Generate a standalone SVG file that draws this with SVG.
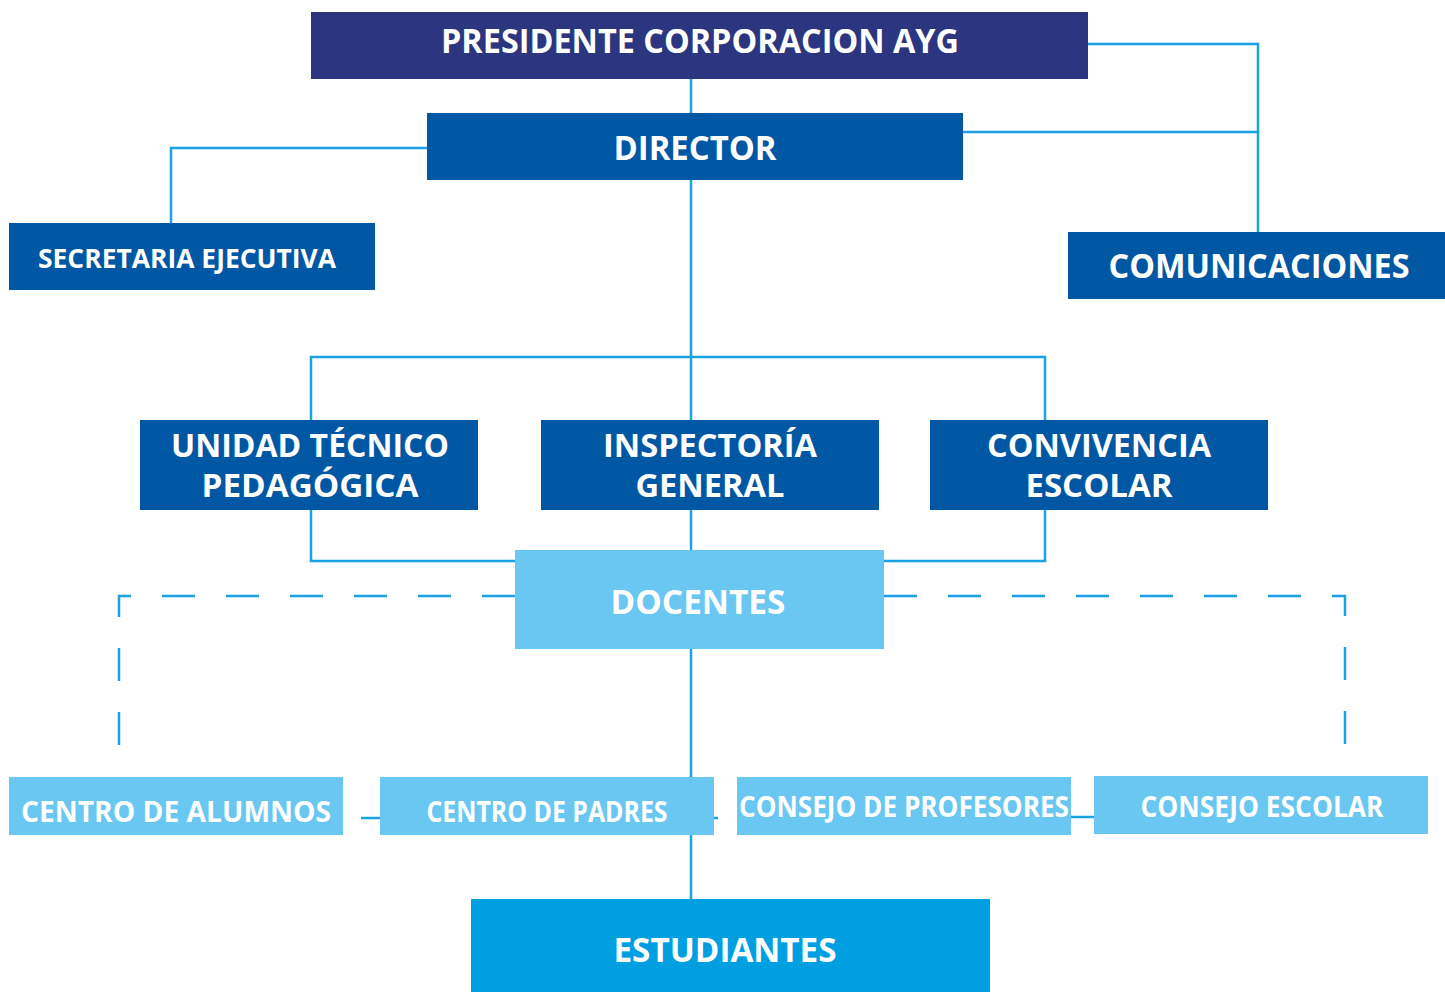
<svg xmlns="http://www.w3.org/2000/svg" width="1445" height="992" viewBox="0 0 1445 992">
<style>
.ln{fill:none;stroke:#1aa3e2;stroke-width:2.5}
.dash{fill:none;stroke:#1aa3e2;stroke-width:2.5;stroke-dasharray:33 31}
.t{font-family:"Open Sans","Liberation Sans",sans-serif;font-weight:700;fill:#ffffff;text-anchor:middle}
.navy{fill:#2b3580}
.blue{fill:#0057a4}
.light{fill:#6ac7f2}
.cyan{fill:#009fe1}
</style>
<rect width="1445" height="992" fill="#ffffff"/>
<g id="connectors">
<polyline class="ln" points="1088,44 1258,44 1258,232"/>
<polyline class="ln" points="963,132 1258,132"/>
<line class="ln" x1="691" y1="79" x2="691" y2="113"/>
<polyline class="ln" points="427,148 171,148 171,223"/>
<line class="ln" x1="691" y1="180" x2="691" y2="550"/>
<polyline class="ln" points="311,420 311,357 1045,357 1045,420"/>
<polyline class="ln" points="311,510 311,561 515,561"/>
<polyline class="ln" points="1045,510 1045,561 884,561"/>
<polyline class="dash" points="515,596 119,596 119,750"/>
<polyline class="dash" points="884,596 1345,596 1345,750"/>
<line class="ln" x1="691" y1="649" x2="691" y2="899"/>
<line class="ln" x1="361" y1="818" x2="380" y2="818"/>
<line class="ln" x1="714" y1="818" x2="718" y2="818"/>
<line class="ln" x1="1071" y1="817" x2="1094" y2="817"/>
</g>
<g id="presidente"><rect class="navy" x="311" y="12" width="777" height="67"/><text class="t" x="700" y="53" font-size="34" textLength="518" lengthAdjust="spacingAndGlyphs">PRESIDENTE CORPORACION AYG</text></g>
<g id="director"><rect class="blue" x="427" y="113" width="536" height="67"/><text class="t" x="695" y="160" font-size="34" textLength="163" lengthAdjust="spacingAndGlyphs">DIRECTOR</text></g>
<g id="secretaria"><rect class="blue" x="9" y="223" width="366" height="67"/><text class="t" x="187" y="268" font-size="27" textLength="298" lengthAdjust="spacingAndGlyphs">SECRETARIA EJECUTIVA</text></g>
<g id="comunicaciones"><rect class="blue" x="1068" y="232" width="377" height="67"/><text class="t" x="1259" y="278" font-size="34" textLength="301" lengthAdjust="spacingAndGlyphs">COMUNICACIONES</text></g>
<g id="utp"><rect class="blue" x="140" y="420" width="338" height="90"/><text class="t" x="310" y="457" font-size="32" textLength="278" lengthAdjust="spacingAndGlyphs">UNIDAD TÉCNICO</text><text class="t" x="310" y="497" font-size="32" textLength="217" lengthAdjust="spacingAndGlyphs">PEDAGÓGICA</text></g>
<g id="inspectoria"><rect class="blue" x="541" y="420" width="338" height="90"/><text class="t" x="710" y="457" font-size="32" textLength="214" lengthAdjust="spacingAndGlyphs">INSPECTORÍA</text><text class="t" x="710" y="497" font-size="32" textLength="149" lengthAdjust="spacingAndGlyphs">GENERAL</text></g>
<g id="convivencia"><rect class="blue" x="930" y="420" width="338" height="90"/><text class="t" x="1099" y="457" font-size="32" textLength="224" lengthAdjust="spacingAndGlyphs">CONVIVENCIA</text><text class="t" x="1099" y="497" font-size="32" textLength="147" lengthAdjust="spacingAndGlyphs">ESCOLAR</text></g>
<g id="docentes"><rect class="light" x="515" y="550" width="369" height="99"/><text class="t" x="698" y="614" font-size="34" textLength="175" lengthAdjust="spacingAndGlyphs">DOCENTES</text></g>
<g id="centro-alumnos"><rect class="light" x="9" y="777" width="334" height="58"/><text class="t" x="176" y="822" font-size="29" textLength="310" lengthAdjust="spacingAndGlyphs">CENTRO DE ALUMNOS</text></g>
<g id="centro-padres"><rect class="light" x="380" y="777" width="334" height="58"/><text class="t" x="547" y="822" font-size="29" textLength="241" lengthAdjust="spacingAndGlyphs">CENTRO DE PADRES</text></g>
<g id="consejo-profesores"><rect class="light" x="737" y="777" width="334" height="58"/><text class="t" x="904" y="817" font-size="29" textLength="330" lengthAdjust="spacingAndGlyphs">CONSEJO DE PROFESORES</text></g>
<g id="consejo-escolar"><rect class="light" x="1094" y="776" width="334" height="58"/><text class="t" x="1262" y="817" font-size="29" textLength="243" lengthAdjust="spacingAndGlyphs">CONSEJO ESCOLAR</text></g>
<g id="estudiantes"><rect class="cyan" x="471" y="899" width="519" height="93"/><text class="t" x="725" y="962" font-size="34" textLength="223" lengthAdjust="spacingAndGlyphs">ESTUDIANTES</text></g>
</svg>
